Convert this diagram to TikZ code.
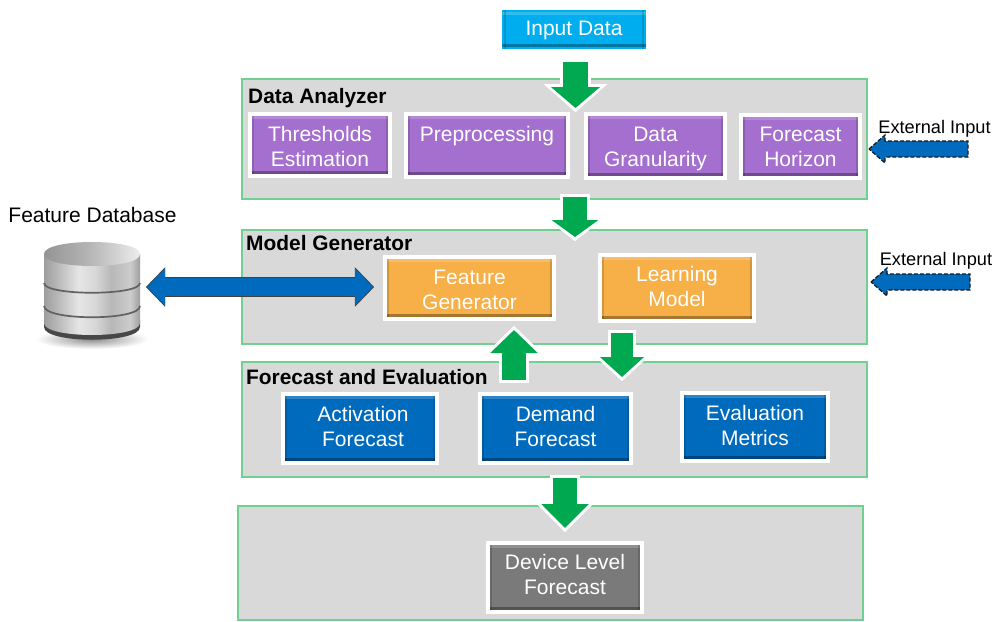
\documentclass[tikz,border=0pt]{standalone}
\usepackage{fontspec}
\setmainfont{Liberation Sans}
\usetikzlibrary{arrows.meta}
\pgfdeclarehorizontalshading{dbbody}{100bp}{rgb(0bp)=(.62,.62,.62);rgb(25bp)=(.62,.62,.62);rgb(32bp)=(.72,.72,.72);rgb(43bp)=(.90,.90,.90);rgb(52bp)=(.84,.84,.84);rgb(60bp)=(.72,.72,.72);rgb(70bp)=(.80,.80,.80);rgb(75bp)=(.62,.62,.62);rgb(100bp)=(.62,.62,.62)}
\pgfdeclarehorizontalshading{dbtop}{100bp}{rgb(0bp)=(.58,.58,.58);rgb(25bp)=(.58,.58,.58);rgb(50bp)=(.72,.72,.72);rgb(75bp)=(.93,.93,.93);rgb(100bp)=(.93,.93,.93)}
\definecolor{framegray}{HTML}{D9D9D9}
\definecolor{framegreen}{HTML}{6FD08F}
\definecolor{arrowgreen}{HTML}{00A84F}
\definecolor{cyanbox}{HTML}{00AEEF}
\definecolor{purplebox}{HTML}{A56FCF}
\definecolor{orangebox}{HTML}{F7AF47}
\definecolor{bluebox}{HTML}{006ABC}
\definecolor{graybox}{HTML}{7A7A7A}
% nudge a centred two-line text: down from its first line, up from its last line
\newcommand\txtdown[1]{\rule{0pt}{\dimexpr 15.5pt+2\dimexpr #1\relax\relax}}
\newcommand\txtup[1]{\rule[\dimexpr -2\dimexpr #1\relax\relax]{0pt}{1pt}}
\tikzset{
  x=1pt,y=-1pt,
  frame/.style={draw=framegreen,fill=framegray,line width=1.3pt,minimum width=#1,inner sep=0pt,outer sep=0pt},
  bevelbox/.style={fill=#1,text=white,align=center,inner sep=0pt,outer sep=0pt,
    font=\fontsize{21}{25}\selectfont,
    path picture={
      \fill[black,opacity=.32] ([yshift=2pt]path picture bounding box.south west) rectangle ([yshift=5.5pt]path picture bounding box.south east);
      \fill[white,opacity=.18] ([yshift=-2pt]path picture bounding box.north west) rectangle ([yshift=-5pt]path picture bounding box.north east);
      \fill[black,opacity=.14] ([xshift=2pt]path picture bounding box.south west) rectangle ([xshift=4pt]path picture bounding box.north west);
      \fill[black,opacity=.14] ([xshift=-2pt]path picture bounding box.south east) rectangle ([xshift=-4pt]path picture bounding box.north east);
    }},
  ringed/.style={draw=white,line width=4pt},
  heading/.style={anchor=west,inner sep=0pt,font=\bfseries\fontsize{20.9}{24}\selectfont},
  plainlabel/.style={inner sep=0pt,font=\fontsize{#1}{24}\selectfont},
  greenarrow/.style n args={3}{draw=arrowgreen,line width=#1,
    -{Triangle[length=#3,width=#2]},
    preaction={draw=white,line width=#1+6pt,shorten >=-4.2pt,shorten <=-3pt,
      -{Triangle[length=#3+7.2pt,width=#2+14.4pt]}}},
  dbarrow/.style={draw=bluebox,line width=18pt,
    {Triangle[length=18pt,width=36pt]}-{Triangle[length=18pt,width=36pt]},
    preaction={draw=black!75,line width=19.6pt,shorten >=-1.2pt,shorten <=-1.2pt,
      {Triangle[length=19.4pt,width=38.6pt]}-{Triangle[length=19.4pt,width=38.6pt]}}},
  extarrow/.style={draw=black!90,fill=bluebox,line width=1.2pt,dash pattern=on 4pt off 2pt,line join=miter},
}
\begin{document}
\begin{tikzpicture}
\useasboundingbox (0,0) rectangle (993,621);
\fill[white] (0,0) rectangle (993,621);

% frames
\node[frame=625pt,minimum height=120pt] (analyzer) at (554.5,139) {};
\node[frame=625pt,minimum height=114pt] (model) at (554.5,287) {};
\node[frame=625pt,minimum height=115pt] (forecast) at (554.5,419.5) {};
\node[frame=625pt,minimum height=114pt] (final) at (550.5,563) {};

% headings
\node[heading] (h1) at (248,98.5) {Data Analyzer};
\node[heading] (h2) at (246,243) {Model Generator};
\node[heading] (h3) at (246,377) {Forecast and Evaluation};

% boxes
\node[bevelbox=cyanbox,minimum width=144pt,minimum height=39pt] (input) at (574,29.5) {\txtdown{0.5pt}Input Data};

\node[bevelbox=purplebox,ringed,minimum width=140pt,minimum height=62pt] (thresholds) at (320,145) {\txtdown{1pt}Thresholds\\Estimation};
\node[bevelbox=purplebox,ringed,minimum width=162pt,minimum height=63pt] (prep) at (487,145.5) {\txtdown{1pt}Preprocessing\\~};
\node[bevelbox=purplebox,ringed,minimum width=139pt,minimum height=64pt] (gran) at (655.5,146) {\txtdown{2.5pt}Data\\Granularity};
\node[bevelbox=purplebox,ringed,minimum width=119pt,minimum height=63pt] (horizon) at (800.5,146.5) {Forecast\\Horizon};

\node[bevelbox=orangebox,ringed,minimum width=169pt,minimum height=62pt] (feature) at (469.5,288) {\txtdown{1.5pt}Feature\\Generator};
\node[bevelbox=orangebox,ringed,minimum width=154pt,minimum height=66pt] (learning) at (677,288) {Learning\\Model\txtup{2pt}};

\node[bevelbox=bluebox,ringed,minimum width=154pt,minimum height=69pt] (activation) at (360,428.5) {\hspace*{6pt}Activation\\\hspace*{6pt}Forecast\txtup{2pt}};
\node[bevelbox=bluebox,ringed,minimum width=151pt,minimum height=69pt] (demand) at (555.5,428.5) {Demand\\Forecast\txtup{2pt}};
\node[bevelbox=bluebox,ringed,minimum width=146pt,minimum height=68pt] (metrics) at (755,427) {Evaluation\\Metrics\txtup{2pt}};

\node[bevelbox=graybox,ringed,minimum width=154pt,minimum height=69pt] (device) at (565,577.5) {Device Level\\Forecast\txtup{3pt}};

% green connectors
\draw[greenarrow={25pt}{48pt}{21pt}] ([xshift=1.5pt,yshift=-13pt]input.south) -- ([xshift=21pt,yshift=-29pt]analyzer.north);
\draw[greenarrow={24pt}{46pt}{17pt}] ([xshift=20.5pt,yshift=2pt]analyzer.south) -- ([xshift=20.5pt,yshift=-7pt]model.north);
\draw[greenarrow={24pt}{46pt}{23pt}] ([xshift=-41.5pt,yshift=14.5pt]demand.north) -- ([xshift=44.5pt,yshift=-11pt]feature.south);
\draw[greenarrow={22pt}{43pt}{20pt}] ([xshift=-55pt,yshift=-12pt]learning.south) -- ([xshift=67.5pt,yshift=-15pt]forecast.north);
\draw[greenarrow={24pt}{46pt}{24pt}] ([xshift=10.5pt,yshift=-1pt]forecast.south) -- ([xshift=14.5pt,yshift=-22pt]final.north);

% database
\node[minimum width=96pt,minimum height=98pt,inner sep=0pt,outer sep=0pt] (db) at (92,291) {};
\node[plainlabel=21] (dblabel) at (92.5,215) {Feature Database};
\shade[inner color=black!45,outer color=white] (92,339) ellipse [x radius=56,y radius=10];
\fill[black!72] (44,320) -- (44,327) .. controls (44,344) and (140,344) .. (140,327) -- (140,320) -- cycle;
\shade[shading=dbbody] (44,254) -- (44,323) .. controls (44,339) and (140,339) .. (140,323) -- (140,254) -- cycle;
\shade[shading=dbtop] (44,254) .. controls (44,238) and (140,238) .. (140,254) .. controls (140,270) and (44,270) .. (44,254) -- cycle;
\draw[black!62,line width=1.7pt] (44,283) .. controls (44,296) and (140,296) .. (140,283);
\draw[black!62,line width=1.7pt] (44,306) .. controls (44,321) and (140,321) .. (140,306);

% double arrow
\draw[dbarrow] ([xshift=7pt,yshift=4pt]db.east) -- ([xshift=-12pt,yshift=1pt]feature.west);

% external inputs
\node[plainlabel=18.2] (ext1) at (934.5,129) {External Input};
\node[plainlabel=18.2] (ext2) at (936,261) {External Input};
\coordinate (ext1tip) at ([xshift=2pt,yshift=-10pt]analyzer.east);
\coordinate (ext2tip) at ([xshift=4pt,yshift=5pt]model.east);
\draw[extarrow] (ext1tip) -- ++(16,-14) -- ++(0,6) -- ++(83,0) -- ++(0,16) -- ++(-83,0) -- ++(0,6) -- cycle;
\draw[extarrow] (ext2tip) -- ++(16,-14) -- ++(0,6) -- ++(83,0) -- ++(0,16) -- ++(-83,0) -- ++(0,6) -- cycle;
\end{tikzpicture}
\end{document}
